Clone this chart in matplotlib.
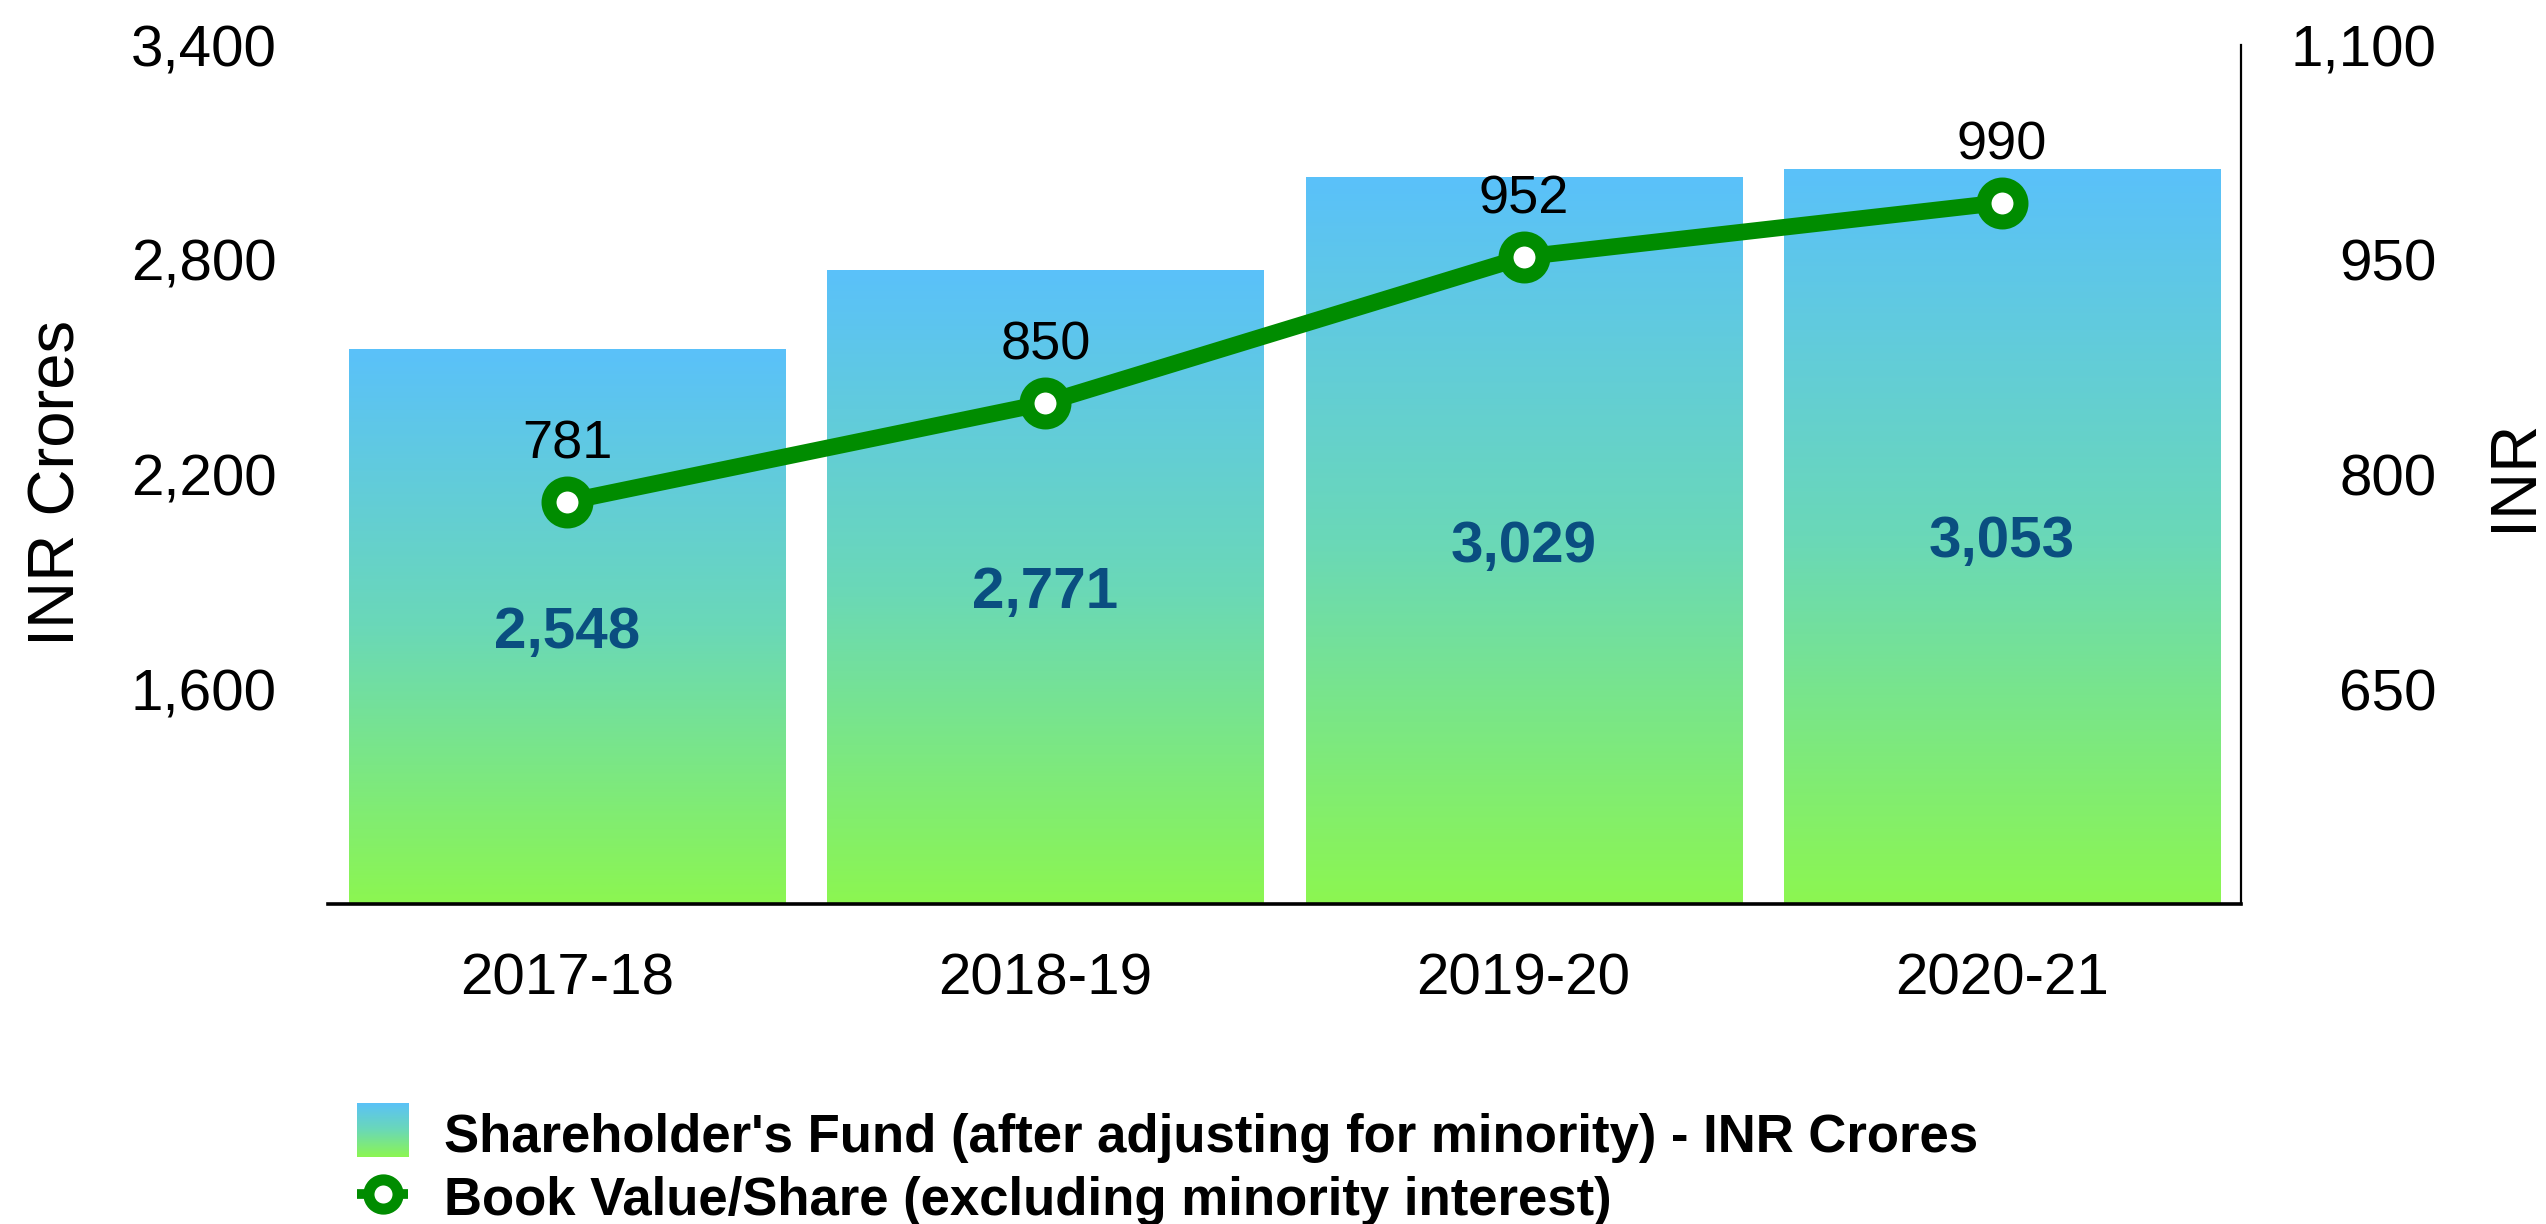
import matplotlib
matplotlib.use("Agg")
import matplotlib.pyplot as plt
import numpy as np
from matplotlib.colors import LinearSegmentedColormap
from matplotlib.lines import Line2D

plt.rcParams['font.family'] = ['Liberation Sans', 'DejaVu Sans']

years = ["2017-18", "2018-19", "2019-20", "2020-21"]
fund = [2548, 2771, 3029, 3053]
book_value = [781, 850, 952, 990]
left_ticks = [1600, 2200, 2800, 3400]
right_ticks = [650, 800, 950, 1100]

fund_label = "Shareholder's Fund (after adjusting for minority) - INR Crores"
bv_label = "Book Value/Share (excluding minority interest)"

green = '#008c00'
navy = '#0a4e80'
grad = LinearSegmentedColormap.from_list('bar', ['#8cf651', '#6ad8b8', '#5ac1fa'])
gvals = np.linspace(0, 1, 256).reshape(-1, 1)

fig = plt.figure(figsize=(25.46, 12.24), dpi=100)
ax = fig.add_axes([0.1288, 0.2614, 0.7514, 0.7018])
ax2 = ax.twinx()

x = np.arange(len(years))
y0, y1 = 1000, 3400
bars = ax.bar(x, fund, width=0.912, color='none', edgecolor='none')
for b, v in zip(bars, fund):
    x0 = b.get_x()
    ax.imshow(gvals, cmap=grad, origin='lower', aspect='auto',
              extent=(x0, x0 + b.get_width(), y0, v), zorder=1)
    # value sits in the middle of the visible part of the bar
    ax.annotate(f"{v:,}", (b.get_x() + b.get_width() / 2, (v + y0) / 2),
                xytext=(0, -15), textcoords='offset points',
                ha='center', va='baseline', fontsize=42, fontweight='bold', color=navy)

ax.set_xlim(-0.5, len(years) - 0.5)
ax.set_ylim(y0, y1)
ax.set_xticks(x)
ax.set_xticklabels(years, fontsize=42)
ax.set_yticks(left_ticks)
ax.set_yticklabels([f"{t:,}" for t in left_ticks], fontsize=42)
ax.tick_params(axis='both', length=0)
ax.tick_params(axis='y', pad=37)
ax.tick_params(axis='x', pad=35)
ax.set_ylabel("INR Crores", fontsize=47, va='center', ha='center')
ax.yaxis.set_label_coords(-0.1416, 0.49)

for s in ['top', 'left', 'right']:
    ax.spines[s].set_visible(False)
ax.spines['bottom'].set_linewidth(2.6)

ax2.plot(x, book_value, color=green, lw=12, marker='o', markersize=26.6,
         markeredgewidth=10.8, markerfacecolor='white', markeredgecolor=green,
         solid_capstyle='butt', zorder=3)
for xi, v in zip(x, book_value):
    ax2.annotate(f"{v}", (xi, v), xytext=(0, 31), textcoords='offset points',
                 ha='center', va='baseline', fontsize=39)
ax2.set_ylim(500, 1100)
ax2.set_yticks(right_ticks)
ax2.set_yticklabels([f"{t:,}" for t in right_ticks], fontsize=42)
ax2.tick_params(axis='y', length=0, pad=141)
for lab in ax2.get_yticklabels():
    lab.set_horizontalalignment('right')
ax2.set_ylabel("INR", fontsize=47, rotation=90, va='center', ha='center')
ax2.yaxis.set_label_coords(1.1426, 0.5)
for s in ['top', 'left', 'bottom']:
    ax2.spines[s].set_visible(False)
ax2.spines['right'].set_linewidth(1.6)

# legend, drawn by hand below the plot
lax = fig.add_axes([357 / 2546, (1224 - 1157) / 1224, 52 / 2546, 54 / 1224])
lax.imshow(gvals, cmap=grad, origin='lower', aspect='auto')
lax.axis('off')
fig.add_artist(Line2D([357 / 2546, 408 / 2546], [30 / 1224, 30 / 1224], color=green, lw=7,
                      solid_capstyle='butt', transform=fig.transFigure))
fig.add_artist(Line2D([382.5 / 2546], [30 / 1224], marker='o', markersize=21,
                      markeredgewidth=8, markerfacecolor='white', markeredgecolor=green,
                      transform=fig.transFigure))
fig.text(444 / 2546, (1224 - 1152) / 1224, fund_label, fontsize=38, fontweight='bold', va='baseline')
fig.text(444 / 2546, (1224 - 1215) / 1224, bv_label, fontsize=38, fontweight='bold', va='baseline')

fig.savefig("out.png", dpi=100)
